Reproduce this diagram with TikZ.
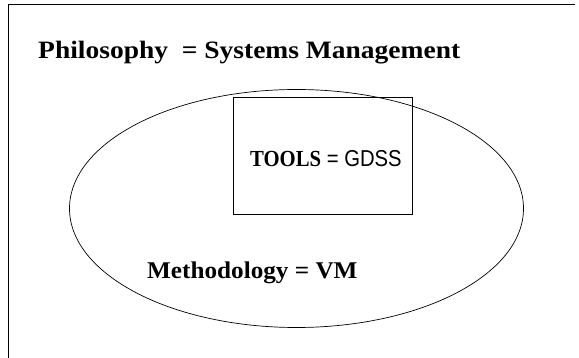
\documentclass[tikz,border=0pt]{standalone}
\usepackage{fontspec}
\setmainfont{Liberation Serif}
\newfontfamily\toolsans{Liberation Sans}
\usetikzlibrary{shapes.geometric}
\begin{document}
\begin{tikzpicture}[x=1pt,y=-1pt,
  frameline/.style={draw=black,line width=0.8pt},
  outline/.style={draw=black,line width=0.7pt},
  headtext/.style={font=\fontsize{25}{30}\selectfont\bfseries\addfontfeature{FakeStretch=1.1},inner sep=0pt},
  methtext/.style={font=\fontsize{24}{28}\selectfont\bfseries\addfontfeature{FakeStretch=1.05},inner sep=0pt},
  boxtext/.style={font=\fontsize{23}{27}\selectfont,inner sep=0pt}]
  \useasboundingbox (0,0) rectangle (579,358);
  % open frame: top rule and left rule
  \coordinate (tl) at (8,4);
  \coordinate (tr) at (575,4);
  \coordinate (bl) at (8,358);
  \draw[frameline] (tr) -- (tl) -- (bl);
  % heading
  \node[headtext,anchor=base west] (philo) at (38,59) {Philosophy~ = Systems Management};
  % methodology ellipse
  \node[outline,ellipse,minimum width=454,minimum height=238,inner sep=0pt] (method) at (296.5,208.5) {};
  % tools box
  \node[outline,rectangle,minimum width=179,minimum height=117,inner sep=0pt] (tools) at (322.5,155.5) {};
  \node[boxtext,anchor=base west] (toolstext) at (250,167) {{\bfseries\addfontfeature{FakeStretch=0.9}TOOLS} {\toolsans\addfontfeature{FakeStretch=0.88}= GDSS}};
  % methodology label
  \node[methtext,anchor=base west] (meth) at (147,279) {Methodology = VM};
\end{tikzpicture}
\end{document}
